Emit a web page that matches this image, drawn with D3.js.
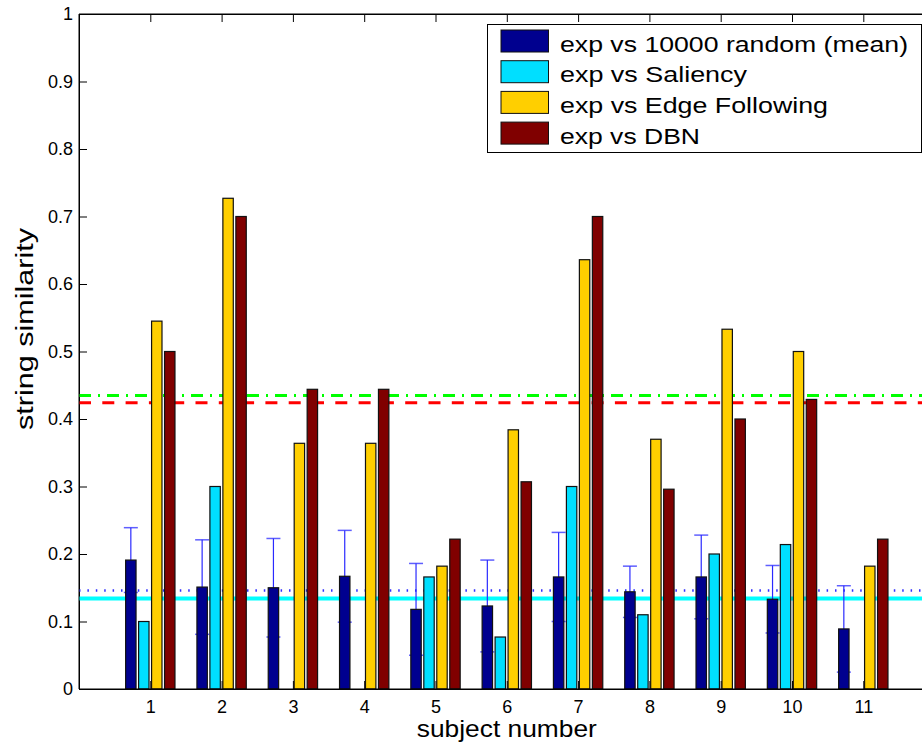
<!DOCTYPE html>
<html>
<head>
<meta charset="utf-8">
<script src="https://cdn.jsdelivr.net/npm/d3@7"></script>
<style>
  body { margin: 0; background: #fff; }
  svg { display: block; font-family: "Liberation Sans", Arial, sans-serif; }
</style>
</head>
<body>
<svg id="chart" width="922" height="748"></svg>
<script>
// subjects on the x axis
const subjects = ["1", "2", "3", "4", "5", "6", "7", "8", "9", "10", "11"];

// series values
const randomMean = [0.191, 0.151, 0.150, 0.167, 0.118, 0.123, 0.166, 0.144, 0.166, 0.133, 0.089];
const randomErr = [0.048, 0.070, 0.073, 0.068, 0.068, 0.068, 0.066, 0.038, 0.062, 0.050, 0.064];
const saliency = [0.100, 0.300, 0, 0, 0.166, 0.077, 0.300, 0.110, 0.200, 0.214, 0];
const edgeFollowing = [0.545, 0.727, 0.364, 0.364, 0.182, 0.384, 0.636, 0.370, 0.533, 0.500, 0.182];
const dbn = [0.500, 0.700, 0.444, 0.444, 0.222, 0.307, 0.700, 0.296, 0.400, 0.429, 0.222];

// horizontal reference lines (average of each series)
const meanLines = [0.146, 0.134, 0.435, 0.424];

const seriesNames = ["exp vs 10000 random (mean)", "exp vs Saliency", "exp vs Edge Following", "exp vs DBN"];
const yTicks = [0, 0.1, 0.2, 0.3, 0.4, 0.5, 0.6, 0.7, 0.8, 0.9, 1];

const series = [randomMean, saliency, edgeFollowing, dbn];
const colors = ["#00008f", "#00dfff", "#ffcf00", "#800000"];
const lineStyles = [
    { color: "#2f2fff", width: 2.5, dash: "1.5,6.9" },
    { color: "#00ffff", width: 4, dash: null },
    { color: "#00ff00", width: 3, dash: "12,7,2,7" },
    { color: "#ff0000", width: 3, dash: "12,11.3" }
];

const svg = d3.select("#chart");

const x = d3.scaleLinear().domain([0, 12]).range([79, 934.6]);
const y = d3.scaleLinear().domain([0, 1]).range([689, 14]);

const step = 0.182, bw = 0.146;
const barX = (i, s) => (s + 1) + (i - 1.5) * step;

// axes with inward ticks (drawn under the data)
const gLeft = svg.append("g").attr("transform", `translate(${x(0)},0)`)
    .call(d3.axisLeft(y).tickValues(yTicks).tickSize(-8).tickSizeOuter(0).tickPadding(6)
        .tickFormat(d3.format("~g")));
const gBottom = svg.append("g").attr("transform", `translate(0,${y(0)})`)
    .call(d3.axisBottom(x).tickValues(d3.range(1, subjects.length + 1)).tickSize(-8).tickSizeOuter(0)
        .tickPadding(11).tickFormat((d, i) => subjects[i]));
const gTop = svg.append("g").attr("transform", `translate(0,${y(1)})`)
    .call(d3.axisTop(x).tickValues(d3.range(1, subjects.length + 1)).tickSize(-8).tickSizeOuter(0)
        .tickFormat(""));
const gRight = svg.append("g").attr("transform", `translate(${x(12)},0)`)
    .call(d3.axisRight(y).tickValues(yTicks).tickSize(-8).tickSizeOuter(0).tickFormat(""));

[gLeft, gBottom, gTop, gRight].forEach(g => {
    g.selectAll(".domain").attr("stroke", "#000");
    g.selectAll(".tick line").attr("stroke", "#000");
    g.selectAll("text").attr("font-size", 18).attr("fill", "#000")
        .attr("font-family", "'Liberation Sans', Arial, sans-serif");
});

// mean reference lines
svg.append("g").selectAll("line")
    .data(meanLines)
    .enter()
    .append("line")
    .attr("x1", x(0))
    .attr("x2", x(12))
    .attr("y1", d => y(d))
    .attr("y2", d => y(d))
    .attr("stroke", (d, i) => lineStyles[i].color)
    .attr("stroke-width", (d, i) => lineStyles[i].width)
    .attr("stroke-dasharray", (d, i) => lineStyles[i].dash);

// error bars for the random baseline
const err = svg.append("g").attr("stroke", "#2a2aff").attr("fill", "none");
randomMean.forEach((m, s) => {
    const cx = x(barX(0, s));
    const lo = y(m - randomErr[s]), hi = y(m + randomErr[s]);
    err.append("line").attr("x1", cx).attr("x2", cx).attr("y1", lo).attr("y2", hi).attr("stroke-width", 1.2);
    [lo, hi].forEach(yy => {
        err.append("line").attr("x1", cx - 7).attr("x2", cx + 7).attr("y1", yy).attr("y2", yy)
            .attr("stroke-width", 1.5).attr("stroke-opacity", 0.75);
    });
});

// grouped bars (zero values keep their slot but draw nothing)
series.forEach((vals, i) => {
    svg.append("g").selectAll("rect")
        .data(vals)
        .enter()
        .append("rect")
        .attr("x", (d, s) => x(barX(i, s) - bw / 2))
        .attr("y", d => y(d))
        .attr("width", (d, s) => x(barX(i, s) + bw / 2) - x(barX(i, s) - bw / 2))
        .attr("height", d => y(0) - y(d))
        .attr("fill", colors[i])
        .attr("stroke", d => d > 0 ? "#111" : "none")
        .attr("stroke-width", 1.2);
});

// frame
svg.append("line").attr("x1", x(0)).attr("x2", x(12)).attr("y1", y(1)).attr("y2", y(1)).attr("stroke", "#000");
svg.append("line").attr("x1", x(0)).attr("x2", x(12)).attr("y1", y(0)).attr("y2", y(0)).attr("stroke", "#000");
svg.append("line").attr("x1", x(0)).attr("x2", x(0)).attr("y1", y(0)).attr("y2", y(1)).attr("stroke", "#000");

// axis titles
svg.append("text")
    .attr("x", (x(0) + x(12)) / 2)
    .attr("y", 737)
    .attr("text-anchor", "middle")
    .attr("font-size", 24)
    .attr("textLength", 180)
    .attr("lengthAdjust", "spacingAndGlyphs")
    .text("subject number");

svg.append("text")
    .attr("transform", "translate(32.7,329) rotate(-90)")
    .attr("text-anchor", "middle")
    .attr("font-size", 23)
    .attr("textLength", 202)
    .attr("lengthAdjust", "spacingAndGlyphs")
    .text("string similarity");

// legend
const legend = svg.append("g").attr("transform", "translate(487,24)");
legend.append("rect")
    .attr("x", 0.5).attr("y", 0.5)
    .attr("width", 434).attr("height", 128)
    .attr("fill", "#fff").attr("stroke", "#000");

const legendWidths = [348, 187, 268, 140];
const item = legend.selectAll(".legend-item")
    .data(seriesNames)
    .enter()
    .append("g")
    .attr("class", "legend-item")
    .attr("transform", (d, i) => `translate(0,${6 + i * 30.7})`);

item.append("rect")
    .attr("x", 14).attr("y", 0)
    .attr("width", 47.5).attr("height", 22)
    .attr("fill", (d, i) => colors[i])
    .attr("stroke", "#111");

item.append("text")
    .attr("x", 73)
    .attr("y", 21.7)
    .attr("font-size", 22)
    .attr("textLength", (d, i) => legendWidths[i])
    .attr("lengthAdjust", "spacingAndGlyphs")
    .text(d => d);
</script>
</body>
</html>
